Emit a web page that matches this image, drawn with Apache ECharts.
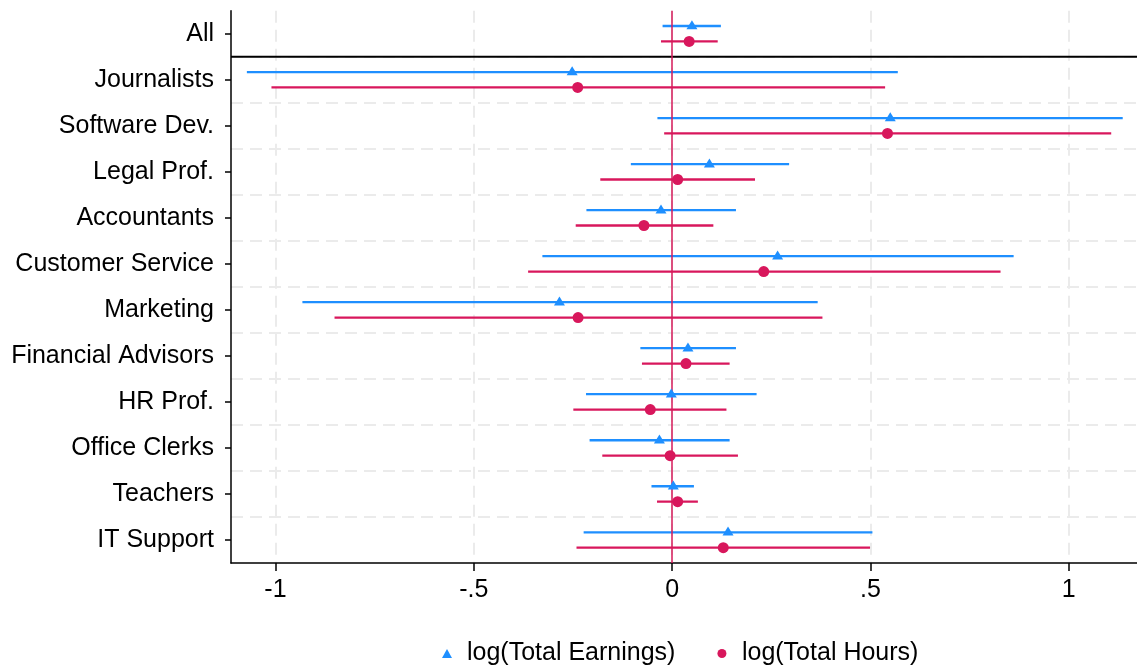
<!DOCTYPE html>
<html>
<head>
<meta charset="utf-8">
<script src="https://cdn.jsdelivr.net/npm/echarts@6/dist/echarts.min.js"></script>
<style>
html,body{margin:0;padding:0;background:#fff;}
#chart{width:1137px;height:666px;}
</style>
</head>
<body>
<div id="chart"></div>
<script>
const categories = ['All','Journalists','Software Dev.','Legal Prof.','Accountants','Customer Service','Marketing','Financial Advisors','HR Prof.','Office Clerks','Teachers','IT Support'];

const earnPt = [0.050, -0.252, 0.550, 0.094, -0.028, 0.266, -0.284, 0.040, -0.002, -0.032, 0.003, 0.141];
const earnLo = [-0.024, -1.072, -0.037, -0.104, -0.216, -0.327, -0.932, -0.080, -0.217, -0.208, -0.052, -0.223];
const earnHi = [0.123, 0.569, 1.136, 0.295, 0.161, 0.861, 0.367, 0.161, 0.213, 0.145, 0.055, 0.505];

const hoursPt = [0.043, -0.238, 0.543, 0.014, -0.071, 0.231, -0.237, 0.035, -0.055, -0.005, 0.014, 0.129];
const hoursLo = [-0.028, -1.010, -0.020, -0.181, -0.243, -0.363, -0.851, -0.076, -0.249, -0.176, -0.038, -0.241];
const hoursHi = [0.115, 0.537, 1.107, 0.209, 0.104, 0.828, 0.379, 0.145, 0.137, 0.166, 0.065, 0.499];

const tickValues = [-1, -0.5, 0, 0.5, 1];
const tickLabels = ['-1', '-.5', '0', '.5', '1'];

const seriesNames = ['log(Total Earnings)', 'log(Total Hours)'];

const BLUE = '#1e8fff';
const RED = '#d8175c';
const FONT = "'Liberation Sans', Arial, sans-serif";

function ciRenderer(offset, color) {
  return function (params, api) {
    const cat = api.value(0);
    const p1 = api.coord([api.value(1), cat]);
    const p2 = api.coord([api.value(2), cat]);
    return {
      type: 'line',
      shape: { x1: p1[0], y1: p1[1] + offset, x2: p2[0], y2: p2[1] + offset },
      style: { stroke: color, lineWidth: 2.3 }
    };
  };
}

const chart = echarts.init(document.getElementById('chart'), null, { renderer: 'canvas' });

chart.setOption({
  animation: false,
  backgroundColor: '#fff',
  textStyle: { fontFamily: FONT },
  grid: { left: 231, right: 0, top: 10.7, bottom: 103, containLabel: false },
  legend: {
    data: [
      { name: seriesNames[0], icon: 'triangle', itemStyle: { color: BLUE, opacity: 1 } },
      { name: seriesNames[1], icon: 'circle', itemStyle: { color: RED, opacity: 1 } }
    ],
    left: 437,
    top: 636,
    itemWidth: 10,
    itemHeight: 9,
    itemGap: 42,
    textStyle: { fontFamily: FONT, fontSize: 25, color: '#000', padding: [0, 0, 0, 10] }
  },
  xAxis: {
    type: 'value',
    min: -1.112,
    max: 1.172,
    axisLine: { show: true, onZero: false, lineStyle: { color: '#000', width: 1.5 } },
    axisTick: { show: true, length: 8, customValues: tickValues, lineStyle: { color: '#000', width: 1.5 } },
    axisLabel: {
      customValues: tickValues,
      margin: 15,
      fontSize: 25,
      color: '#000',
      fontFamily: FONT,
      formatter: function (v) {
        const i = tickValues.indexOf(v);
        return i >= 0 ? tickLabels[i] : '';
      }
    },
    splitLine: { show: true, lineStyle: { color: '#ebebeb', width: 2, type: [12, 7] } }
  },
  yAxis: {
    type: 'category',
    data: categories,
    inverse: true,
    boundaryGap: true,
    axisLine: { show: true, onZero: false, lineStyle: { color: '#000', width: 1.5 } },
    axisTick: { show: true, alignWithLabel: true, length: 6, lineStyle: { color: '#000', width: 1.5 } },
    axisLabel: { margin: 17, fontSize: 25, color: '#000', fontFamily: FONT },
    splitLine: { show: true, showMinLine: false, showMaxLine: false, lineStyle: { color: '#ebebeb', width: 2, type: [12, 7] } }
  },
  series: [
    {
      name: 'ciEarn',
      type: 'custom',
      renderItem: ciRenderer(-7.7, BLUE),
      encode: { x: [1, 2], y: 0 },
      data: categories.map((c, i) => [i, earnLo[i], earnHi[i]]),
      z: 2
    },
    {
      name: 'ciHours',
      type: 'custom',
      renderItem: ciRenderer(7.7, RED),
      encode: { x: [1, 2], y: 0 },
      data: categories.map((c, i) => [i, hoursLo[i], hoursHi[i]]),
      z: 2
    },
    {
      name: 'separator',
      type: 'custom',
      renderItem: function (params, api) {
        const a = api.coord([0, 0])[1];
        const b = api.coord([0, 1])[1];
        const y = (a + b) / 2;
        const cs = params.coordSys;
        return {
          type: 'line',
          shape: { x1: cs.x, y1: y, x2: cs.x + cs.width, y2: y },
          style: { stroke: '#000', lineWidth: 2 }
        };
      },
      encode: { x: 0, y: 1 },
      data: [[0, 0]],
      z: 3,
      markLine: {
        silent: true,
        symbol: 'none',
        label: { show: false },
        lineStyle: { color: 'rgba(214,25,90,0.75)', type: 'solid', width: 2 },
        data: [{ xAxis: 0 }],
        z: 4
      }
    },
    {
      name: seriesNames[0],
      type: 'scatter',
      symbol: 'triangle',
      symbolSize: [11, 9],
      symbolOffset: [0, -8.9],
      itemStyle: { color: BLUE, opacity: 1 },
      data: categories.map((c, i) => [earnPt[i], i]),
      z: 5
    },
    {
      name: seriesNames[1],
      type: 'scatter',
      symbol: 'circle',
      symbolSize: 11,
      symbolOffset: [0, 7.7],
      itemStyle: { color: RED, opacity: 1 },
      data: categories.map((c, i) => [hoursPt[i], i]),
      z: 5
    }
  ]
});
</script>
</body>
</html>
